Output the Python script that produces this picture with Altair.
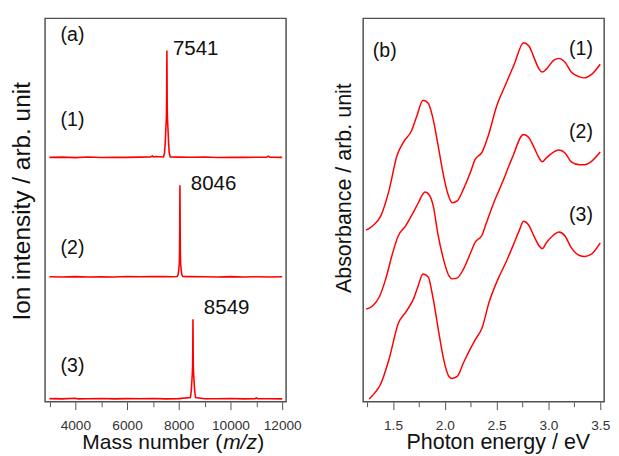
import altair as alt
import pandas as pd

FONT = "Liberation Sans"
RED = "#ff0000"
FRAME = "#505050"
TXT = "#111111"

# ---------------- (a) mass spectra ----------------
ms_labels = ["(1)", "(2)", "(3)"]
ms_offsets = [250, 127.5, 2.5]

ms1_mass = [3000, 3500, 4000, 4500, 5000, 5500, 6000, 6500, 6900, 6980, 7020, 7100,
            7410, 7450, 7475, 7500, 7522, 7530, 7536, 7541, 7546, 7552, 7560, 7582, 7607, 7632, 7672,
            8000, 8500, 9000, 9500, 10000, 10500, 11000, 11400, 11460, 11520, 12000]
ms1_int = [0.5, 0.8, 0.3, 0.9, 0.4, 0.7, 0.5, 0.8, 1.0, 2.0, 1.0, 1.5,
           1.0, 5, 15, 30, 42, 60, 90, 110, 90, 60, 42, 30, 15, 5, 1.0,
           0.8, 0.6, 0.9, 0.4, 0.7, 0.5, 0.6, 0.8, 1.8, 0.7, 0.5]

ms2_mass = [3000, 3500, 4000, 4500, 5000, 5500, 6000, 6500, 7000, 7500, 7700,
            7940, 7975, 8000, 8020, 8030, 8037, 8042, 8046, 8050, 8055, 8062, 8072, 8092, 8117, 8150,
            8400, 9000, 9500, 10000, 10500, 11000, 11500, 12000]
ms2_int = [0.6, 0.4, 0.8, 0.5, 0.7, 0.4, 0.9, 0.6, 0.8, 1.0, 0.7,
           1.0, 3, 8, 14, 25, 50, 80, 94.5, 80, 50, 25, 14, 8, 3, 1.0,
           0.8, 0.6, 0.5, 0.8, 0.4, 0.7, 0.5, 0.6]

ms3_mass = [3000, 3500, 4000, 4100, 4500, 5000, 5500, 6000, 6500, 7000, 7500, 8000,
            8450, 8480, 8505, 8525, 8536, 8541, 8545, 8549, 8553, 8557, 8562, 8573, 8593, 8618, 8648,
            9000, 9500, 10000, 10500, 10950, 11000, 11050, 11500, 12000]
ms3_int = [0.8, 0.5, 1.2, 0.5, 0.7, 0.9, 0.5, 0.8, 0.6, 0.9, 0.5, 0.8,
           2, 8, 18, 27, 35, 50, 70, 82, 70, 50, 35, 27, 18, 8, 2,
           0.7, 0.6, 0.9, 0.5, 0.8, 1.6, 0.7, 0.6, 0.5]

mass_major = [4000, 6000, 8000, 10000, 12000]
mass_minor = [3000, 5000, 7000, 9000, 11000]

ann_a_text = ["(a)", "(1)", "(2)", "(3)"]
ann_a_x = [3890, 3890, 3890, 3890]
ann_a_y = [376, 289, 158, 37]

peak_text = ["7541", "8046", "8549"]
peak_x = [7774, 8464, 8970]
peak_y = [361, 223.5, 96]

# ---------------- (b) absorption spectra ----------------
abs_labels = ["(1)", "(2)", "(3)"]
abs1_ev = [1.24, 1.30, 1.38, 1.46, 1.54, 1.60, 1.68, 1.73, 1.79, 1.84, 1.88, 1.93, 1.98, 2.03,
           2.07, 2.12, 2.18, 2.25, 2.29, 2.36, 2.42, 2.50, 2.59, 2.67, 2.76, 2.81, 2.86, 2.91,
           2.94, 2.98, 3.05, 3.10, 3.16, 3.22, 3.30, 3.35, 3.41, 3.50]
abs1_val = [176, 180, 190, 216, 253, 266, 278, 293, 309, 306, 293, 266, 236, 213,
            204, 206, 218, 236, 248, 256, 273, 303, 326, 346, 368, 365, 353, 341,
            338, 341, 350, 352, 348, 338, 333, 332, 335, 346]

abs2_ev = [1.24, 1.30, 1.37, 1.43, 1.49, 1.55, 1.62, 1.70, 1.74, 1.81, 1.85, 1.89, 1.93, 1.99,
           2.04, 2.07, 2.12, 2.18, 2.25, 2.29, 2.36, 2.40, 2.48, 2.56, 2.65, 2.76, 2.81, 2.86,
           2.91, 2.94, 2.98, 3.05, 3.10, 3.16, 3.22, 3.30, 3.35, 3.41, 3.50]
abs2_val = [95, 98, 108, 126, 150, 170, 180, 195, 203, 215, 212, 200, 174, 145,
            129, 126, 127, 136, 153, 163, 171, 183, 206, 226, 250, 274, 271, 261,
            250, 246, 250, 256, 258, 255, 246, 243, 243, 246, 256]

abs3_ev = [1.27, 1.33, 1.38, 1.46, 1.55, 1.63, 1.70, 1.74, 1.79, 1.84, 1.88, 1.95, 1.99, 2.04,
           2.07, 2.12, 2.18, 2.25, 2.29, 2.36, 2.43, 2.51, 2.59, 2.67, 2.72, 2.76, 2.81, 2.86,
           2.91, 2.94, 2.98, 3.05, 3.10, 3.16, 3.22, 3.30, 3.35, 3.41, 3.50]
abs3_val = [3, 10, 18, 43, 80, 93, 106, 118, 131, 128, 110, 66, 43, 26,
            24, 26, 40, 55, 63, 76, 103, 125, 143, 163, 176, 185, 181, 170,
            160, 157, 163, 171, 174, 170, 158, 150, 149, 151, 163]

ev_major = [1.5, 2.0, 2.5, 3.0, 3.5]
ev_minor = [1.25, 1.75, 2.25, 2.75, 3.25]

ann_b_text = ["(b)", "(1)", "(2)", "(3)"]
ann_b_x = [1.42, 3.314, 3.314, 3.314]
ann_b_y = [359.5, 361, 276, 191]

# ---------------- build tables ----------------
rows = []
for lab, off, ms, it in zip(ms_labels, ms_offsets, [ms1_mass, ms2_mass, ms3_mass],
                            [ms1_int, ms2_int, ms3_int]):
    for m, v in zip(ms, it):
        rows.append({"series": lab, "mass": m, "y": v + off})
df_a = pd.DataFrame(rows)
df_ann_a = pd.DataFrame({"t": ann_a_text, "x": ann_a_x, "y": ann_a_y})
df_peak = pd.DataFrame({"t": peak_text, "x": peak_x, "y": peak_y})

rows = []
for lab, ev, val in zip(abs_labels, [abs1_ev, abs2_ev, abs3_ev], [abs1_val, abs2_val, abs3_val]):
    for e, v in zip(ev, val):
        rows.append({"series": lab, "ev": e, "y": v})
df_b = pd.DataFrame(rows)
df_ann_b = pd.DataFrame({"t": ann_b_text, "x": ann_b_x, "y": ann_b_y})

W, H = 247, 393


def title_text(text, x, y, size, angle=0, align="center", style="normal"):
    return alt.Chart(pd.DataFrame({"t": [text]})).mark_text(
        font=FONT, fontSize=size, color=TXT, align=align, baseline="alphabetic",
        angle=angle, fontStyle=style).encode(
        x=alt.value(x), y=alt.value(y), text="t:N")


# ---------------- panel (a) ----------------
xsa = alt.Scale(domain=[2830, 12150], nice=False, zero=False)
ysa = alt.Scale(domain=[0, 393], nice=False, zero=False)

line_a = alt.Chart(df_a).mark_line(color=RED, strokeWidth=1.6).encode(
    x=alt.X("mass:Q", scale=xsa,
            axis=alt.Axis(values=mass_major, format="d", tickSize=8, labelPadding=9,
                          labelFlush=False, labelOverlap=False, title=None, orient="bottom")),
    y=alt.Y("y:Q", scale=ysa, axis=None),
    detail="series:N",
)

ann_a = alt.Chart(df_ann_a).mark_text(font=FONT, fontSize=20, color=TXT,
                                      align="center", baseline="middle").encode(
    x=alt.X("x:Q", scale=xsa,
            axis=alt.Axis(values=mass_minor, labels=False, tickSize=5, title=None, orient="bottom")),
    y=alt.Y("y:Q", scale=ysa, axis=None),
    text="t:N",
)

peaks_a = alt.Chart(df_peak).mark_text(font=FONT, fontSize=21, color=TXT,
                                       align="left", baseline="middle").encode(
    x=alt.X("x:Q", scale=xsa, axis=None),
    y=alt.Y("y:Q", scale=ysa, axis=None),
    text="t:N",
)

xt1 = title_text("Mass number (", 181.5, 441.5, 21.5, align="right")
xt2 = title_text("m/z", 182.5, 441.5, 21.5, align="left", style="italic")
xt3 = title_text(")", 217.5, 441.5, 21.5, align="left")
yt_a = title_text("Ion intensity / arb. unit", -15.5, 187.5, 25, angle=270)

panel_a = alt.layer(line_a, ann_a, peaks_a, xt1, xt2, xt3, yt_a).resolve_axis(
    x="independent").properties(width=W, height=H)

# ---------------- panel (b) ----------------
xsb = alt.Scale(domain=[1.212, 3.538], nice=False, zero=False)
ysb = alt.Scale(domain=[0, 393], nice=False, zero=False)

line_b = alt.Chart(df_b).mark_line(color=RED, strokeWidth=1.5, interpolate="monotone").encode(
    x=alt.X("ev:Q", scale=xsb,
            axis=alt.Axis(values=ev_major, format=".1f", tickSize=8, labelPadding=9,
                          labelFlush=False, labelOverlap=False, orient="bottom", title=None)),
    y=alt.Y("y:Q", scale=ysb, axis=None),
    detail="series:N",
)

ann_b = alt.Chart(df_ann_b).mark_text(font=FONT, fontSize=20, color=TXT,
                                      align="center", baseline="middle").encode(
    x=alt.X("x:Q", scale=xsb,
            axis=alt.Axis(values=ev_minor, labels=False, tickSize=5, title=None, orient="bottom")),
    y=alt.Y("y:Q", scale=ysb, axis=None),
    text="t:N",
)

xt_b = title_text("Photon energy / eV", 138.5, 441.5, 22)
yt_b = title_text("Absorbance / arb. unit", -12, 174, 22, angle=270)

panel_b = alt.layer(line_b, ann_b, xt_b, yt_b).resolve_axis(
    x="independent").properties(width=W, height=H)

chart = alt.hconcat(panel_a, panel_b, spacing=79, bounds="flush").properties(
    padding={"left": 1, "top": 4, "right": 0, "bottom": 0}
).configure_view(
    stroke=FRAME, strokeWidth=1.5
).configure_axis(
    labelFont=FONT, titleFont=FONT, labelFontSize=14, labelColor="#333333",
    tickColor=FRAME, tickWidth=1, domain=False, grid=False,
    titleFontWeight="normal", titleColor=TXT,
)

chart.save("out.html", embed_options={"renderer": "svg", "actions": False})
